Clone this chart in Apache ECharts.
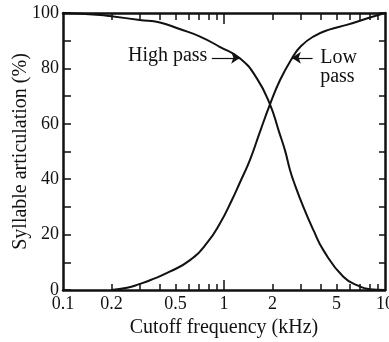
<!DOCTYPE html>
<html>
<head>
<meta charset="utf-8">
<script src="https://cdn.jsdelivr.net/npm/echarts@6/dist/echarts.min.js"></script>
<style>
  html, body { margin: 0; padding: 0; background: #fff; }
  #chart { width: 389px; height: 342px; }
</style>
</head>
<body>
<div id="chart"></div>
<script>
// cutoff frequency (kHz) vs syllable articulation (%)
const lowFreq = [0.2, 0.25, 0.3, 0.35, 0.46, 0.615, 0.78, 0.945, 1.12, 1.26, 1.45, 1.67, 1.93, 2.23, 2.64, 3.0, 3.59, 4.5, 5.78, 7.7, 10];
const lowVal  = [0, 0.8, 2.2, 3.6, 6.6, 10.8, 16.8, 24.1, 32.5, 39, 47, 57, 67, 75.8, 83.6, 88, 91.5, 94, 95.7, 98, 100];
const highFreq = [0.1, 0.17, 0.2, 0.3, 0.4, 0.53, 0.71, 0.94, 1.26, 1.6, 1.93, 2.2, 2.39, 2.57, 2.69, 3.11, 3.6, 4.14, 5.51, 7, 8, 10];
const highVal  = [100, 99.3, 98.8, 97.5, 96.6, 94.2, 91.5, 87.8, 83.6, 76.4, 67, 57, 50.5, 43.3, 39.7, 30, 21.5, 14.4, 4.8, 1.2, 0.3, 0];

const xLabels = [0.1, 0.2, 0.5, 1, 2, 5, 10];
const xMinorTicks = [0.2, 0.3, 0.4, 0.5, 0.6, 0.7, 0.8, 0.9, 2, 3, 4, 5, 6, 7, 8, 9];
const xMajorTicks = [1];
const yLabels = [0, 20, 40, 60, 80, 100];

const FONT = "'Liberation Serif', 'DejaVu Serif', serif";
const INK = "#111";

const chart = echarts.init(document.getElementById("chart"));

const pairs = (xs, ys) => xs.map((x, i) => [x, ys[i]]);
const L = 63, R = 4, T = 13, B = 52;
const mainGrid = { left: L, right: R, top: T, bottom: B, containLabel: false, outerBoundsMode: "none" };
// thin strip whose top edge sits on the bottom axis line, for upward ticks there
const floorGrid = { left: L, right: R, bottom: B - 1, height: 1, containLabel: false, outerBoundsMode: "none" };

// tick-only axes: same decade range, placed on log10 of the tick values
const tickAxis = (gridIndex, values, length, inside) => ({
  gridIndex: gridIndex,
  type: "value",
  min: -1,
  max: 1,
  position: "top",
  splitLine: { show: false },
  axisLine: { show: false, onZero: false },
  axisLabel: { show: false },
  axisTick: { inside: inside, length: length, customValues: values.map(Math.log10), lineStyle: { color: INK, width: 1.5 } },
});
const hiddenY = gridIndex => ({ gridIndex: gridIndex, type: "value", min: 0, max: 1, show: false, axisLine: { onZero: false } });

chart.setOption({
  animation: false,
  backgroundColor: "#fff",
  grid: [mainGrid, mainGrid, mainGrid, floorGrid, floorGrid],
  xAxis: [
    {
      type: "log",
      logBase: 10,
      min: 0.1,
      max: 10,
      position: "bottom",
      splitLine: { show: false },
      axisLine: { onZero: false, lineStyle: { color: INK, width: 2.5 } },
      axisTick: { show: false },
      axisLabel: { customValues: xLabels, formatter: v => String(+v.toPrecision(3)), color: INK, fontSize: 18, fontFamily: FONT, margin: 5 },
      name: "Cutoff frequency (kHz)",
      nameLocation: "middle",
      nameGap: 27,
      nameTextStyle: { color: INK, fontSize: 20, fontFamily: FONT },
    },
    {
      type: "log",
      logBase: 10,
      min: 0.1,
      max: 10,
      position: "top",
      splitLine: { show: false },
      axisLine: { onZero: false, lineStyle: { color: INK, width: 2.5 } },
      axisTick: { show: false },
      axisLabel: { show: false },
    },
    tickAxis(1, xMinorTicks, 7, true),
    tickAxis(2, xMajorTicks, 11, true),
    tickAxis(3, xMinorTicks, 6, false),
    tickAxis(4, xMajorTicks, 10, false),
  ],
  yAxis: [
    {
      type: "value",
      min: 0,
      max: 100,
      interval: 10,
      position: "left",
      splitLine: { show: false },
      axisLine: { show: true, onZero: false, lineStyle: { color: INK, width: 2.5 } },
      axisTick: { inside: true, length: 8, lineStyle: { color: INK, width: 1.5 } },
      axisLabel: { customValues: yLabels, color: INK, fontSize: 18, fontFamily: FONT, margin: 4 },
      name: "Syllable articulation (%)",
      nameLocation: "middle",
      nameGap: 32,
      nameMoveOverlap: false,
      nameTextStyle: { color: INK, fontSize: 20, fontFamily: FONT },
    },
    {
      type: "value",
      min: 0,
      max: 100,
      interval: 10,
      position: "right",
      splitLine: { show: false },
      axisLine: { show: true, onZero: false, lineStyle: { color: INK, width: 2.5 } },
      axisTick: { inside: true, length: 6, lineStyle: { color: INK, width: 1.5 } },
      axisLabel: { show: false },
    },
    hiddenY(1),
    hiddenY(2),
    hiddenY(3),
    hiddenY(4),
  ],
  series: [
    {
      name: "High pass",
      type: "line",
      data: pairs(highFreq, highVal),
      smooth: 0.5,
      showSymbol: false,
      lineStyle: { color: INK, width: 2 },
      markLine: {
        silent: true,
        symbol: ["none", "arrow"],
        symbolSize: 9,
        label: { show: false },
        lineStyle: { color: INK, width: 1.2, type: "solid" },
        data: [[{ coord: [0.84, 83.8] }, { coord: [1.26, 83.8] }]],
      },
      markPoint: {
        silent: true,
        symbol: "circle",
        symbolSize: 0,
        label: { show: true, position: "left", distance: 1, formatter: "High pass", color: INK, fontSize: 20, fontFamily: FONT },
        data: [{ coord: [0.8, 84.5] }],
      },
    },
    {
      name: "Low pass",
      type: "line",
      data: pairs(lowFreq, lowVal),
      smooth: 0.5,
      showSymbol: false,
      lineStyle: { color: INK, width: 2 },
      markLine: {
        silent: true,
        symbol: ["none", "arrow"],
        symbolSize: 9,
        label: { show: false },
        lineStyle: { color: INK, width: 1.2, type: "solid" },
        data: [[{ coord: [3.55, 83.8] }, { coord: [2.64, 83.8] }]],
      },
      markPoint: {
        silent: true,
        symbol: "circle",
        symbolSize: 0,
        label: { show: true, position: "right", distance: 1, formatter: "Low\npass", lineHeight: 19, color: INK, fontSize: 20, fontFamily: FONT },
        data: [{ coord: [3.9, 80.5] }],
      },
    },
  ],
});
</script>
</body>
</html>
